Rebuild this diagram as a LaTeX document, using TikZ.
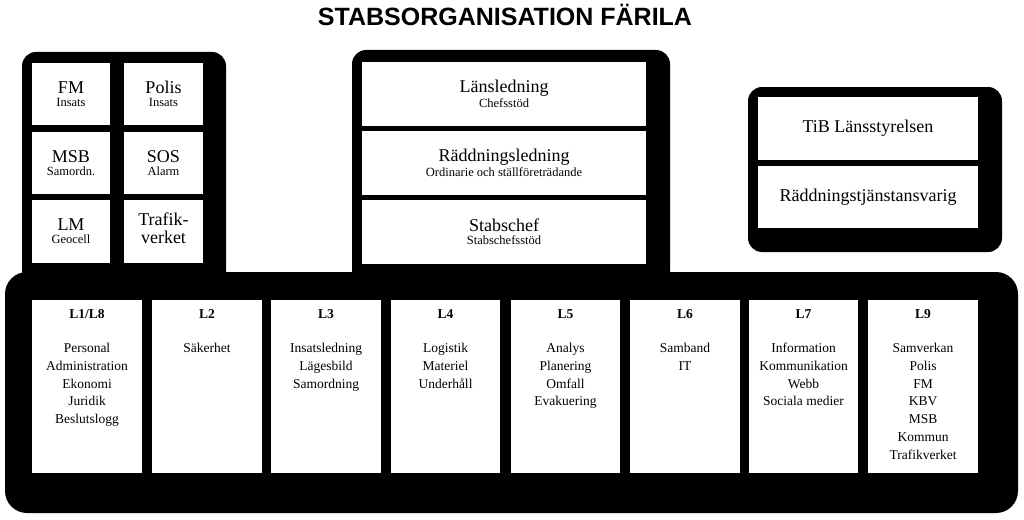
\documentclass[tikz,border=0pt]{standalone}
\usepackage{fontspec}
\setmainfont{Liberation Serif}
\newfontfamily\titlefont{Liberation Sans}
\begin{document}
\begin{tikzpicture}[x=1pt,y=-1pt,
  blob/.style={fill=black,rounded corners=14pt},
  wbox/.style={fill=white,draw=none}]
\useasboundingbox[fill=white] (0,0) rectangle (1024,519);
\node[font=\titlefont\bfseries\fontsize{25}{28}\selectfont] (title) at (505,15) {STABSORGANISATION FÄRILA};
% blobs
\fill[blob] (22,52) rectangle (226,285);
\fill[blob] (352,50) rectangle (670,285);
\fill[blob] (748,87) rectangle (1002,252);
\fill[blob,rounded corners=22pt] (5,272) rectangle (1018,513);
% left boxes
\newcommand\lbox[6]{\fill[wbox] (#1,#2) rectangle (#3,#4);
  \node[align=center,inner sep=0pt] (#5) at ({(#1+#3)/2},{(#2+#4)/2}) {#6};}
\lbox{32}{63}{110}{125}{fm}{{\fontsize{18}{20}\selectfont FM}\\[1pt]{\fontsize{12.5}{14}\selectfont Insats}}
\lbox{124}{63}{203}{125}{polis}{{\fontsize{18}{20}\selectfont Polis}\\[1pt]{\fontsize{12.5}{14}\selectfont Insats}}
\lbox{32}{132}{110}{194}{msb}{{\fontsize{18}{20}\selectfont MSB}\\[1pt]{\fontsize{12.5}{14}\selectfont Samordn.}}
\lbox{124}{132}{203}{194}{sos}{{\fontsize{18}{20}\selectfont SOS}\\[1pt]{\fontsize{12.5}{14}\selectfont Alarm}}
\lbox{32}{200}{110}{263}{lm}{{\fontsize{18}{20}\selectfont LM}\\[1pt]{\fontsize{12.5}{14}\selectfont Geocell}}
\fill[wbox] (124,200) rectangle (203,263);
\node[align=center,inner sep=0pt,font=\fontsize{18}{18}\selectfont] (trafik) at (163.5,228) {Trafik-\\verket};
% middle
\lbox{362}{62}{646}{126}{lans}{{\fontsize{18}{20}\selectfont Länsledning}\\[1pt]{\fontsize{12.5}{14}\selectfont Chefsstöd}}
\lbox{362}{131}{646}{195}{radd}{{\fontsize{18}{20}\selectfont Räddningsledning}\\[1pt]{\fontsize{12.5}{14}\selectfont Ordinarie och ställföreträdande}}
\lbox{362}{200}{646}{264}{stab}{{\fontsize{18}{20}\selectfont Stabschef}\\[1pt]{\fontsize{12.5}{14}\selectfont Stabschefsstöd}}
% right
\lbox{758}{97}{978}{160}{tib}{{\fontsize{18}{20}\selectfont TiB Länsstyrelsen}}
\lbox{758}{166}{978}{228}{rtj}{{\fontsize{18}{20}\selectfont Räddningstjänstansvarig}}
% bottom
\newcommand\bbox[5]{\fill[wbox] (#1,300) rectangle (#2,473);
  \node[align=center,anchor=north,inner sep=0pt,font=\fontsize{13.5}{17.7}\selectfont] (#3) at ({(#1+#2)/2},309) {\textbf{#4}\\[17pt]#5};}
\bbox{32}{142}{l1}{L1/L8}{Personal\\Administration\\Ekonomi\\Juridik\\Beslutslogg}
\bbox{152}{262}{l2}{L2}{Säkerhet}
\bbox{271}{381}{l3}{L3}{Insatsledning\\Lägesbild\\Samordning}
\bbox{391}{500}{l4}{L4}{Logistik\\Materiel\\Underhåll}
\bbox{511}{620}{l5}{L5}{Analys\\Planering\\Omfall\\Evakuering}
\bbox{630}{740}{l6}{L6}{Samband\\IT}
\bbox{749}{858}{l7}{L7}{Information\\Kommunikation\\Webb\\Sociala medier}
\bbox{868}{978}{l9}{L9}{Samverkan\\Polis\\FM\\KBV\\MSB\\Kommun\\Trafikverket}
\end{tikzpicture}
\end{document}
